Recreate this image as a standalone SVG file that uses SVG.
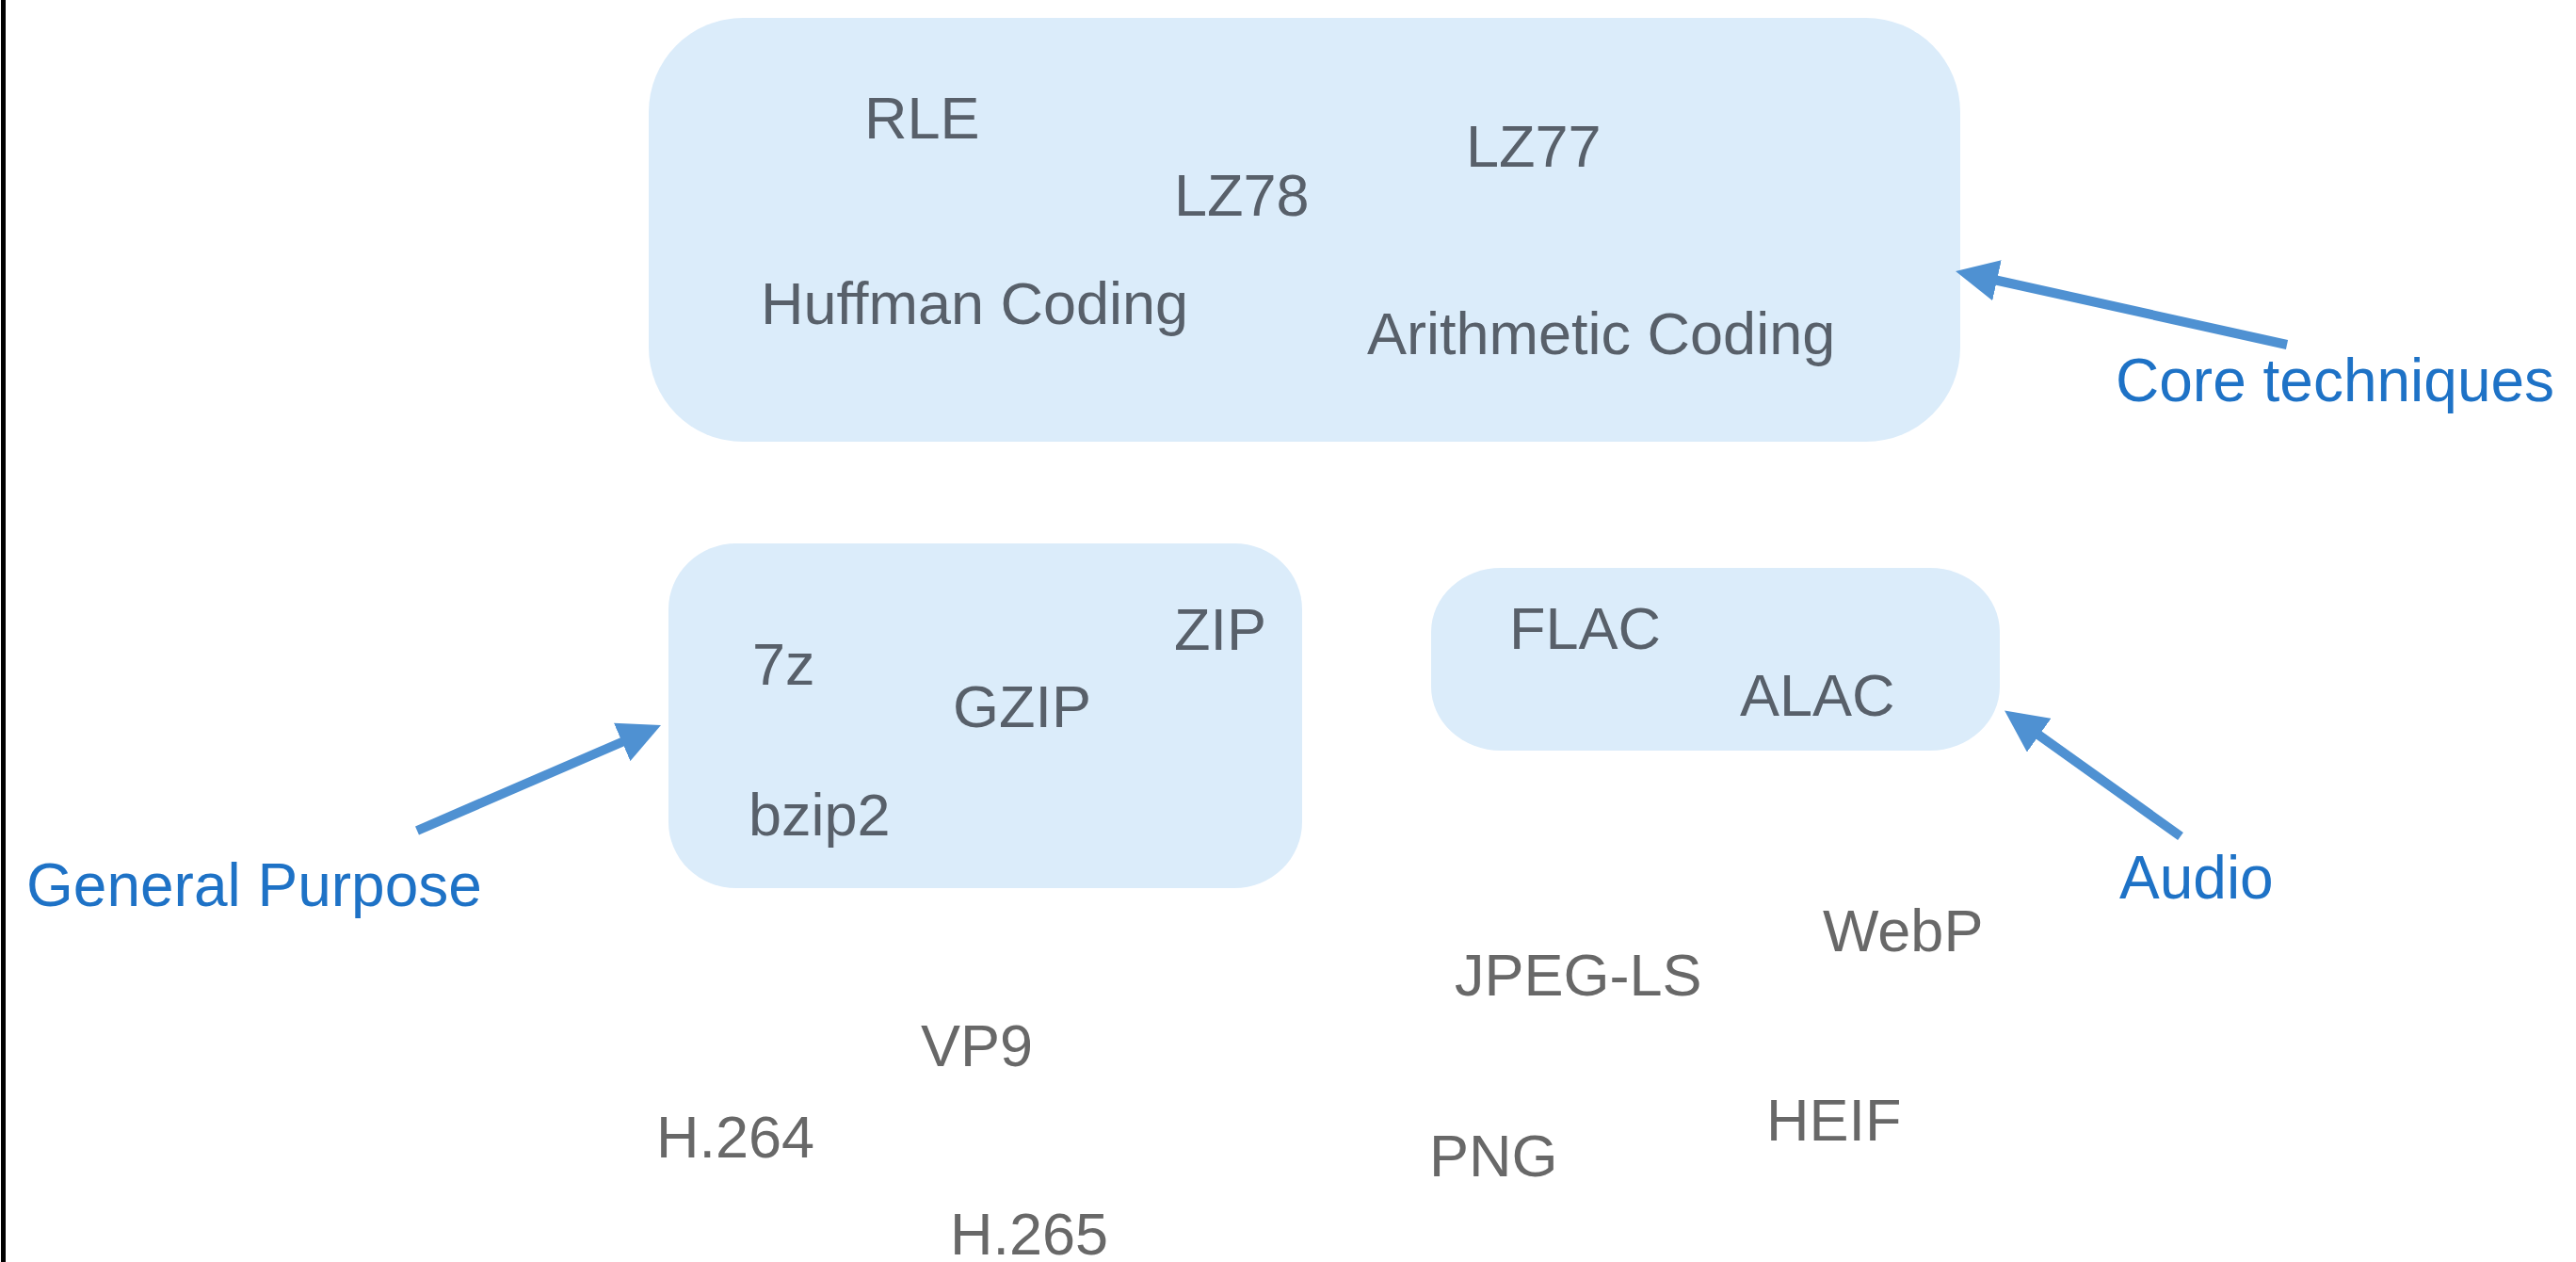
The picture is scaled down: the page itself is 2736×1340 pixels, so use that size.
<svg xmlns="http://www.w3.org/2000/svg" width="2736" height="1340" viewBox="0 0 2736 1340">
<style>
.box{fill:#dbecfa}
.t{font-family:"Liberation Sans",Arial,sans-serif;font-size:63px;fill:#58606a}
.o{font-family:"Liberation Sans",Arial,sans-serif;font-size:63px;fill:#686868}
.lbl{font-family:"Liberation Sans",Arial,sans-serif;font-size:64px;fill:#1e72c6}
.arr{stroke:#4f91d2;stroke-width:10;fill:none;marker-end:url(#head)}
</style>
<defs>
<marker id="head" markerUnits="userSpaceOnUse" markerWidth="46" markerHeight="44" viewBox="0 0 46 44" refX="1" refY="22" orient="auto">
<path d="M0,0 L45,22 L0,44 z" fill="#4f91d2"/>
</marker>
</defs>
<rect x="1" y="0" width="5" height="1340" fill="#000"/>
<g id="core">
<rect class="box" x="689" y="19" width="1393" height="450" rx="100" ry="100"/>
<text class="t" x="918" y="147">RLE</text>
<text class="t" x="1247" y="229">LZ78</text>
<text class="t" x="1557" y="177">LZ77</text>
<text class="t" x="808" y="344">Huffman Coding</text>
<text class="t" x="1452" y="376">Arithmetic Coding</text>
</g>
<g id="general">
<rect class="box" x="710" y="577" width="673" height="366" rx="72" ry="70"/>
<text class="t" x="1247" y="690">ZIP</text>
<text class="t" x="799" y="727">7z</text>
<text class="t" x="1012" y="772">GZIP</text>
<text class="t" x="795" y="887">bzip2</text>
</g>
<g id="audio">
<rect class="box" x="1520" y="603" width="604" height="194" rx="74" ry="68"/>
<text class="t" x="1603" y="689">FLAC</text>
<text class="t" x="1848" y="760">ALAC</text>
</g>
<g id="loose">
<text class="o" x="1936" y="1010">WebP</text>
<text class="o" x="1545" y="1057">JPEG-LS</text>
<text class="o" x="1876" y="1211">HEIF</text>
<text class="o" x="1518" y="1249">PNG</text>
<text class="o" x="978" y="1132">VP9</text>
<text class="o" x="697" y="1229">H.264</text>
<text class="o" x="1009" y="1332">H.265</text>
</g>
<g id="labels">
<text class="lbl" x="2247" y="426">Core techniques</text>
<text class="lbl" x="28" y="962">General Purpose</text>
<text class="lbl" x="2251" y="954">Audio</text>
</g>
<g id="connectors">
<line class="arr" x1="2429" y1="366" x2="2120" y2="297.5"/>
<line class="arr" x1="443" y1="882" x2="661.6" y2="787.5"/>
<line class="arr" x1="2316" y1="888" x2="2164.9" y2="780.1"/>
</g>
</svg>
